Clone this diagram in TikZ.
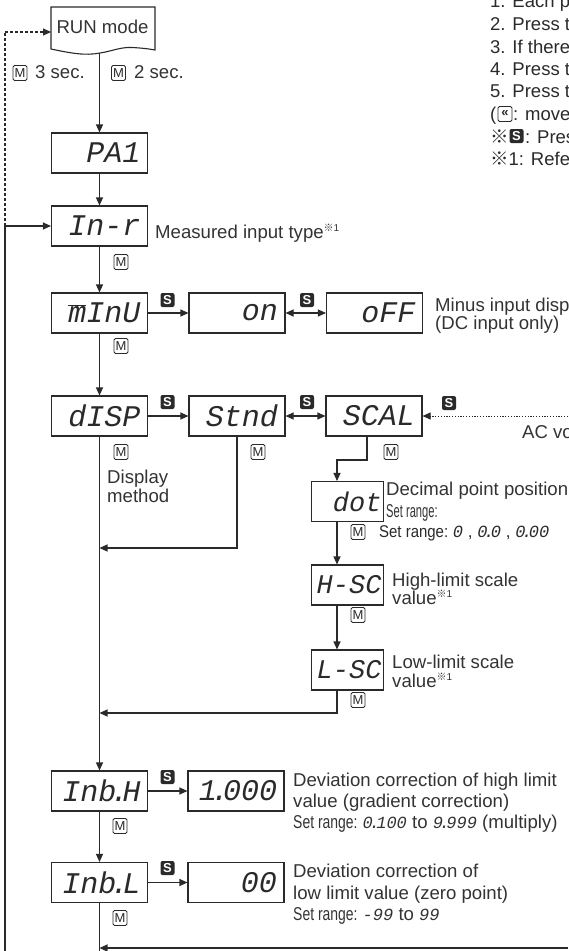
\documentclass[tikz,border=0pt]{standalone}
\usepackage{fontspec}
\setmainfont{Liberation Sans}
\newfontfamily\segfont{Liberation Mono}
\newfontfamily\cjkfont{Noto Sans CJK JP}
\usetikzlibrary{arrows.meta}
\definecolor{ink}{HTML}{2A2A2A}
\definecolor{txt}{HTML}{333333}
\newcommand{\kome}{{\cjkfont ※}}
\newcommand{\sg}[1]{{\fontsize{17}{17}\selectfont\segfont\itshape #1}}
\newcommand{\sdot}{\kern-.2em.\kern-.2em}
\newcommand{\supk}{\raisebox{7pt}{\fontsize{10}{10}\selectfont\kome1}}
\newcommand{\rt}[1]{\makebox[\linewidth][r]{#1}}
\newcommand{\setr}{\scalebox{0.75}[1]{Set range:}}
\tikzset{
  ln/.style={draw=ink, line width=1.1pt},
  arr/.style={ln, -{Triangle[length=8pt,width=7pt]}},
  dbl/.style={ln, {Triangle[length=8pt,width=7pt]}-{Triangle[length=8pt,width=7pt]}},
  disp/.style={draw=ink, line width=1.1pt, minimum height=40pt, text width=82pt, align=right, inner xsep=7pt, inner ysep=0pt, font=\fontsize{30}{30}\selectfont\segfont\itshape, text=ink},
  dispn/.style={disp, text width=68pt, inner xsep=2pt, font=\fontsize{27}{27}\selectfont\segfont\itshape},
  mkey/.style={draw=ink, line width=0.8pt, rounded corners=1.5pt, minimum width=14pt, minimum height=15pt, inner sep=0pt, font=\fontsize{13}{13}\selectfont, text=ink},
  skey/.style={fill=ink, text=white, rounded corners=2pt, minimum width=14pt, minimum height=14pt, inner sep=0pt, font=\fontsize{13}{13}\selectfont\bfseries},
  lbl/.style={anchor=base west, inner sep=0pt, font=\fontsize{18.6}{18.6}\selectfont, text=txt},
  note/.style={anchor=base west, inner sep=0pt, font=\fontsize{18.5}{18.5}\selectfont, text=ink},
}
\begin{document}
\begin{tikzpicture}[x=1pt,y=-1pt]
\useasboundingbox (0,0) rectangle (568,951);
% RUN mode
\draw[ln] (51,49) -- (51,7) -- (155,7) -- (155,50) .. controls (150,49) and (142,48) .. (132,47.5) .. controls (120,47) and (113,51) .. (100,53) .. controls (85,56) and (70,53) .. (51,49) -- cycle;
\node[lbl, anchor=base] (run) at (102.5,33) {RUN mode};
\coordinate (runb) at (99.5,53);
\coordinate (runw) at (51,32);
% display boxes
\node[disp] (pa1) at (99.5,153) {\rt{PA1}};
\node[disp] (inr) at (99.5,226) {\rt{In-r}};
\node[disp] (minu) at (99.5,313) {\rt{$\overline{\mbox{m}}$InU}};
\node[disp] (on) at (237,313) {\rt{on}};
\node[disp] (off) at (374.5,313) {\rt{oFF}};
\node[disp] (disp1) at (99.5,416) {\rt{dISP}};
\node[disp] (stnd) at (237,416) {\rt{Stnd}};
\node[disp] (scal) at (374,416) {\rt{SCAL}};
\node[dispn] (dot) at (347.5,501.5) {\rt{dot}};
\node[dispn] (hsc) at (347.5,585) {\rt{H-SC}};
\node[dispn] (lsc) at (347.5,670) {\rt{L-SC}};
\node[disp] (inbh) at (99.5,791) {\rt{Inb\sdot H}};
\node[disp] (one) at (236,791) {\rt{1\sdot 000}};
\node[disp] (inbl) at (99.5,882.5) {\rt{Inb\sdot L}};
\node[disp] (zero) at (236,882.5) {\rt{00}};
% coordinates
\coordinate (vx) at (337,0);
\coordinate (sx) at (367,0);
\coordinate (b1) at (367,460);
\coordinate (b2) at (337,460);
\coordinate (j1) at (99.5,548);
\coordinate (j2) at (99.5,713);
\coordinate (j3) at (99.5,948);
\coordinate (br) at (568,948);
\coordinate (bot) at (99.5,951);
\coordinate (acR) at (568,416);
\coordinate (lt) at (5,32);
\coordinate (lm) at (5,226);
\coordinate (lb) at (5,951);
% connectors
\draw[arr] (runb) -- (pa1);
\draw[arr] (pa1) -- (inr);
\draw[arr] (inr) -- (minu);
\draw[arr] (minu) -- (on);
\draw[dbl] (on) -- (off);
\draw[arr] (minu) -- (disp1);
\draw[arr] (disp1) -- (stnd);
\draw[dbl] (stnd) -- (scal);
\draw[ln, line width=1pt, dash pattern=on 1.2pt off 1.6pt, -{Triangle[length=8pt,width=7pt]}] (acR) -- (scal);
\draw[arr] (scal.south -| sx) -- (b1) -- (b2) -- (dot.north -| vx);
\draw[arr] (dot.south -| vx) -- (hsc.north -| vx);
\draw[arr] (hsc.south -| vx) -- (lsc.north -| vx);
\draw[arr] (lsc.south -| vx) |- (j2);
\draw[arr] (stnd.south) |- (j1);
\draw[arr] (disp1) -- (inbh);
\draw[arr] (inbh) -- (one);
\draw[arr] (inbh) -- (inbl);
\draw[arr] (inbl) -- (zero);
\draw[ln] (inbl.south) -- (bot);
\draw[arr] (br) -- (j3);
\draw[ln, dash pattern=on 3pt off 2pt] (lm) -- (lt);
\draw[ln, dash pattern=on 3pt off 2pt, -{Triangle[length=8pt,width=7pt]}] (lt) -- (runw);
\draw[ln] (lb) -- (lm);
\draw[arr] (lm) -- (inr);
% key labels
\node[mkey] (m3) at (20,73) {M};
\node[lbl] (t3) at (35,78) {3 sec.};
\node[mkey] (m2) at (118.5,73) {M};
\node[lbl] (t2) at (134,78) {2 sec.};
\node[mkey] (k1) at (121,262) {M};
\node[mkey] (k2) at (121,346) {M};
\node[mkey] (k3) at (121,452) {M};
\node[mkey] (k4) at (258,452) {M};
\node[mkey] (k5) at (391,452) {M};
\node[mkey] (k6) at (358,532) {M};
\node[mkey] (k7) at (358,615) {M};
\node[mkey] (k8) at (358,700) {M};
\node[mkey] (k9) at (120,826) {M};
\node[mkey] (k10) at (120,918) {M};
\node[skey] (s1) at (167.5,300) {S};
\node[skey] (s2) at (307,300) {S};
\node[skey] (s3) at (167.5,402) {S};
\node[skey] (s4) at (307,402) {S};
\node[skey] (s5) at (449,403) {S};
\node[skey] (s6) at (167.5,777) {S};
\node[skey] (s7) at (167.5,868) {S};
% texts
\node[lbl] (tinr) at (155,238) {Measured input type\supk};
\node[lbl] (tmi1) at (435,311) {Minus input disp};
\node[lbl] (tmi2) at (435,329) {(DC input only)};
\node[lbl] (tdm1) at (107,483) {Display};
\node[lbl] (tdm2) at (107,502) {method};
\node[lbl] (tac) at (522,438) {AC vo};
\node[lbl] (tdp1) at (386,495) {Decimal point position};
\node[lbl] (tdp2) at (386,517) {\scalebox{0.6}[1]{Set range:}};
\node[note, font=\fontsize{17}{17}\selectfont] (tdp3) at (379,537) {\scalebox{0.88}[1]{Set range:} \sg{0} , \sg{0\sdot 0} , \sg{0\sdot 00}};
\node[lbl] (th1) at (392,586) {High-limit scale};
\node[lbl] (th2) at (392,604) {value\supk};
\node[lbl] (tl1) at (392,668) {Low-limit scale};
\node[lbl] (tl2) at (392,687) {value\supk};
\node[lbl] (tb1) at (293,786) {Deviation correction of high limit};
\node[lbl] (tb2) at (293,807) {value (gradient correction)};
\node[lbl] (tb3) at (293,828) {\setr{} \sg{0\sdot 100} to \sg{9\sdot 999} (multiply)};
\node[lbl] (tc1) at (293,877) {Deviation correction of};
\node[lbl] (tc2) at (293,899) {low limit value (zero point)};
\node[lbl] (tc3) at (293,920) {\setr{} \sg{-99} to \sg{99}};
% notes
\node[note] (n1) at (490,7) {1. Each p};
\node[note] (n2) at (490,30) {2. Press t};
\node[note] (n3) at (490,53) {3. If there};
\node[note] (n4) at (490,75) {4. Press t};
\node[note] (n5) at (490,97) {5. Press t};
\node[note] (n6a) at (490,120) {(};
\node[mkey, font=\fontsize{13}{13}\selectfont\bfseries] (n6k) at (505,114) {«};
\node[note] (n6b) at (513,120) {: move};
\node[note] (n7a) at (490,143) {\kome};
\node[skey] (n7k) at (516.5,136) {S};
\node[note] (n7b) at (525,143) {: Pres};
\node[note] (n8) at (490,165) {\kome 1: Refe};
\end{tikzpicture}
\end{document}
